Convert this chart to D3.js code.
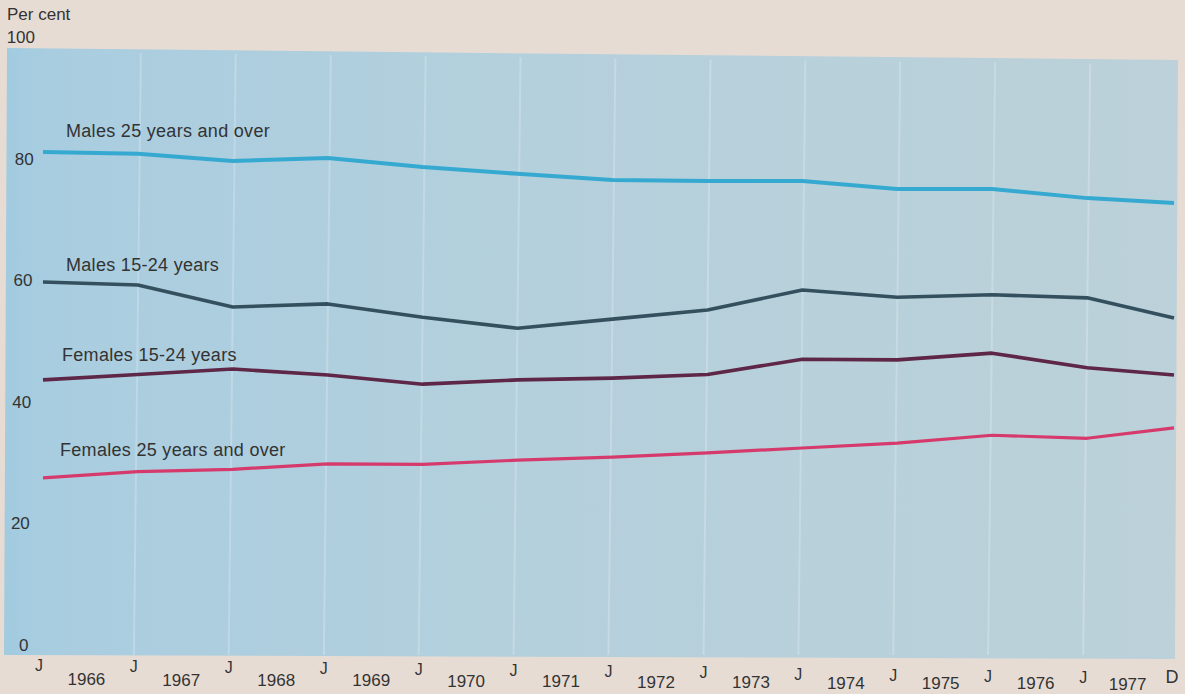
<!DOCTYPE html>
<html>
<head>
<meta charset="utf-8">
<script src="https://cdn.jsdelivr.net/npm/d3@7"></script>
<style>
  html, body { margin: 0; padding: 0; background: #e7dcd4; }
  svg { display: block; }
  text { font-family: "Liberation Sans", Arial, Helvetica, sans-serif; fill: #333; }
</style>
</head>
<body>
<svg id="chart" width="1185" height="694"></svg>
<script>
// ---- data ----
const dates = ["1966-01","1967-01","1968-01","1969-01","1970-01","1971-01","1972-01",
               "1973-01","1974-01","1975-01","1976-01","1977-01","1977-12"];
const years = ["1966","1967","1968","1969","1970","1971","1972","1973","1974","1975","1976","1977"];
const monthTicks = ["J","J","J","J","J","J","J","J","J","J","J","J","D"];
const yTicks = [0, 20, 40, 60, 80, 100];

const males25   = [81.1, 80.8, 79.6, 80.1, 78.6, 77.5, 76.5, 76.3, 76.3, 75.0, 75.0, 73.5, 72.7];
const males1524 = [59.7, 59.2, 55.6, 56.1, 53.9, 52.1, 53.6, 55.1, 58.4, 57.2, 57.6, 57.1, 53.8];
const fem1524   = [43.6, 44.5, 45.4, 44.4, 42.9, 43.6, 43.9, 44.5, 47.0, 46.9, 48.0, 45.6, 44.4];
const fem25     = [27.5, 28.5, 28.9, 29.8, 29.7, 30.4, 30.9, 31.6, 32.4, 33.2, 34.5, 34.0, 35.7];

const seriesNames = ["Males 25 years and over", "Males 15-24 years", "Females 15-24 years", "Females 25 years and over"];
const seriesValues = [males25, males1524, fem1524, fem25];
const seriesColors = ["#36a9d0", "#34505e", "#5e2747", "#d63a6c"];
const seriesWidths = [4, 3.6, 3.6, 3.2];

// ---- layout ----
const svg = d3.select("#chart");
const parse = d3.timeParse("%Y-%m");
const dt = dates.map(parse);

const x = d3.scaleTime().domain([dt[0], dt[dt.length - 1]]).range([43, 1174]);
const y = d3.scaleLinear().domain([0, 100]).range([645, 37]);

// background plot panel with gradient
const defs = svg.append("defs");
const grad = defs.append("linearGradient").attr("id", "bg").attr("x1", "0").attr("x2", "1").attr("y1", "0").attr("y2", "0");
grad.append("stop").attr("offset", "0").attr("stop-color", "#a2cbe0");
grad.append("stop").attr("offset", "0.04").attr("stop-color", "#a9cde0");
grad.append("stop").attr("offset", "0.45").attr("stop-color", "#b4d0dc");
grad.append("stop").attr("offset", "1").attr("stop-color", "#bcd1d9");

svg.append("path")
  .attr("d", "M7,48 L1178,60 L1175,659 L4,655 Z")
  .attr("fill", "url(#bg)");

// faint white J guide lines
const skew = px => (px - 38) * 0.0112;
svg.append("g").selectAll("line")
  .data(dt.slice(1, 12))
  .join("line")
  .attr("x1", d => x(d) - 4).attr("y1", 655)
  .attr("x2", d => x(d) + 3).attr("y2", d => 52 + skew(x(d)))
  .attr("stroke", "#ffffff").attr("stroke-opacity", 0.22).attr("stroke-width", 2);

// y tick labels
svg.append("text").attr("x", 7).attr("y", 20).attr("font-size", 17).text("Per cent");
svg.append("g").selectAll("text")
  .data(yTicks)
  .join("text")
  .attr("x", d => 28.5 + d * 0.065)
  .attr("y", d => y(d) + 6)
  .attr("text-anchor", "end")
  .attr("font-size", 17)
  .text(d => d);

// lines
const line = d3.line().x((d, i) => x(dt[i])).y(d => y(d));
svg.append("g").selectAll("path")
  .data(seriesValues)
  .join("path")
  .attr("d", d => line(d))
  .attr("fill", "none")
  .attr("stroke", (d, i) => seriesColors[i])
  .attr("stroke-width", (d, i) => seriesWidths[i])
  .attr("stroke-linejoin", "round")
  .attr("stroke-linecap", "butt");

// series labels
const labelPos = [[66, 137], [66, 271], [62, 361], [60, 456]];
svg.append("g").selectAll("text")
  .data(seriesNames)
  .join("text")
  .attr("x", (d, i) => labelPos[i][0])
  .attr("y", (d, i) => labelPos[i][1])
  .attr("font-size", 18)
  .attr("letter-spacing", 0.3)
  .text(d => d);

// x axis month ticks
const jx = dt.map((d, i) => x(d) - (i === dt.length - 1 ? 2 : 4));
svg.append("g").selectAll("text")
  .data(monthTicks)
  .join("text")
  .attr("x", (d, i) => jx[i])
  .attr("y", (d, i) => 671 + skew(jx[i]) + (d === "D" ? -1 : 0))
  .attr("text-anchor", "middle")
  .attr("font-size", d => d === "D" ? 18 : 16)
  .attr("fill", (d, i) => (i >= 2 && i <= 6) ? "#5b2a48" : "#444")
  .text(d => d);

// year labels
svg.append("g").selectAll("text")
  .data(years)
  .join("text")
  .attr("x", (d, i) => (jx[i] + jx[i + 1]) / 2)
  .attr("y", (d, i) => 685 + skew((jx[i] + jx[i + 1]) / 2) * 0.4)
  .attr("text-anchor", "middle")
  .attr("font-size", 17)
  .attr("fill", (d, i) => (i === 2 || i === 3) ? "#4a2a40" : "#3a3a3a")
  .text(d => d);
</script>
</body>
</html>
